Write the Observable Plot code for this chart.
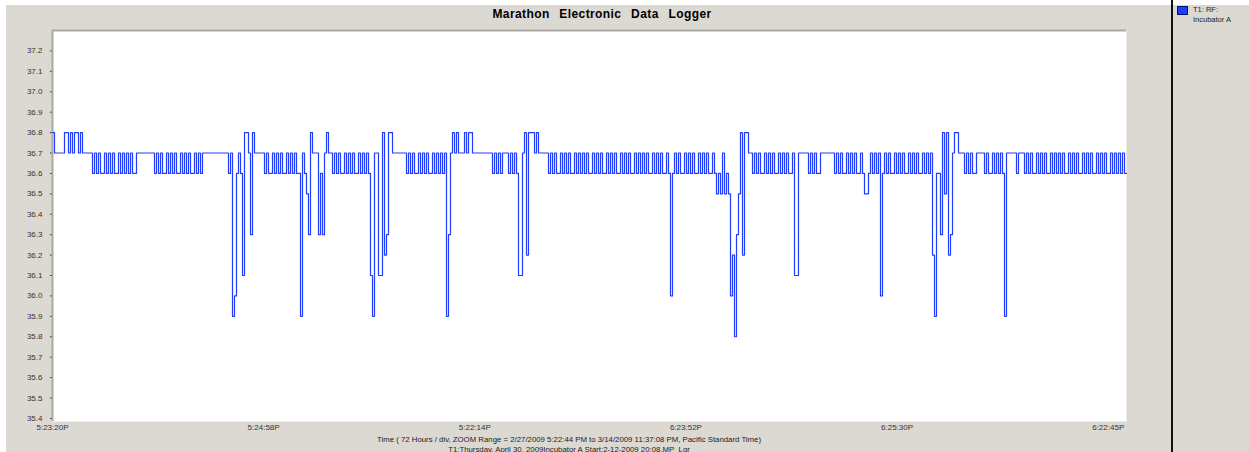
<!DOCTYPE html>
<html>
<head>
<meta charset="utf-8">
<script src="https://cdn.jsdelivr.net/npm/d3@7"></script>
<script src="https://cdn.jsdelivr.net/npm/@observablehq/plot@0.6"></script>
<style>
  html, body { margin: 0; padding: 0; background: #ffffff; }
  #wrap { position: relative; width: 1249px; height: 452px; overflow: hidden; background: #ffffff;
          font-family: "Liberation Sans", Arial, sans-serif; }
  #panel { position: absolute; left: 6px; top: 5px; right: 0; bottom: 0; background: #dcd9d2; }
  #chart { position: absolute; left: 0; top: 0; }
  #title { position: absolute; left: 0; width: 1204px; top: 7px; text-align: center; font-weight: bold;
           font-size: 12px; word-spacing: 6px; letter-spacing: 0.4px; color: #000; }
  #divider { position: absolute; left: 1171px; top: 0; width: 2px; height: 452px; background: #111; }
  #lgbox { position: absolute; left: 1177px; top: 6px; width: 9px; height: 7px; background: #1f3cff; border: 1px solid #00106e; }
  #lgtext { position: absolute; left: 1193px; top: 5px; font-size: 7.5px; line-height: 10px; color: #222; }
  #caption { position: absolute; left: 0; width: 1138px; top: 435px; text-align: center; font-size: 7.8px; line-height: 9.5px; color: #222; }
</style>
</head>
<body>
<div id="wrap">
  <div id="panel"></div>
  <div id="chart"></div>
  <div id="title">Marathon Electronic Data Logger</div>
  <div id="divider"></div>
  <div id="lgbox"></div>
  <div id="lgtext">T1: RF:<br>Incubator A</div>
  <div id="caption">Time ( 72 Hours / div, ZOOM Range = 2/27/2009 5:22:44 PM to 3/14/2009 11:37:08 PM, Pacific Standard Time)<br>T1:Thursday, April 30, 2009Incubator A Start:2-12-2009 20:08.MP&nbsp; Lgr</div>
</div>
<script>
// ---- data ----
// time span of the zoom range in hours (2/27/2009 5:22:44 PM -> 3/14/2009 11:37:08 PM)
const spanHours = 366.24;
// x axis ticks: 72 hours / div, with the logger's tick labels
const tickHours = [0, 72, 144, 216, 288, 360];
const tickLabels = ["5:23:20P", "5:24:58P", "5:22:14P", "6:23:52P", "6:25:30P", "6:22:45P"];
// y axis ticks (°C)
const yTicks = [35.4, 35.5, 35.6, 35.7, 35.8, 35.9, 36.0, 36.1, 36.2, 36.3, 36.4, 36.5, 36.6, 36.7, 36.8, 36.9, 37.0, 37.1, 37.2];
// reading codes -> temperature
const levelCodes = { "8": 36.8, "7": 36.7, "6": 36.6, "5": 36.5, "4": 36.4, "3": 36.3, "2": 36.2, "1": 36.1, "0": 36.0, "9": 35.9, "x": 35.8 };
// successive readings (equally spaced in time)
const readings = [
  "8", "77777", "887878878", "77777",
  "67676676767667676767667", "77777777",
  "676766767676676767667676", "7777777777777",
  "679067", "61887387", "7777",
  "67667676766767676", "697653", "8777", "3637877",
  "6767667676766767676", "197711823887", "777777",
  "67676676767667676767", "93787877787887", "777777777",
  "6767677767676", "11", "782888787", "7777",
  "6767667676", "7667676767", "6676767667", "6767667676", "7667676767", "6676767667", "6",
  "06", "767667676766767676676", "5657565", "02x358288", "77",
  "676766767676676767667", "11", "77777", "6767667", "777777",
  "676766767676676", "556", "76767", "06",
  "767667676766767676676767", "2966385823788", "777", "6767667", "777",
  "6766767676", "9", "777776777",
  "6767667676", "7667676767", "6676767667", "6767667676", "7667676767", "6"
];

// ---- build table ----
const codes = readings.join("");
const n = codes.length;
const series = [];
for (let i = 0; i < n; i++) series.push({ h: i * spanHours / n, v: levelCodes[codes[i]] });
series.push({ h: spanHours, v: levelCodes[codes[n - 1]] });

const chart = Plot.plot({
  width: 1172,
  height: 452,
  marginLeft: 52,
  marginRight: 46,
  marginTop: 30,
  marginBottom: 31,
  style: { background: "transparent", fontFamily: "Liberation Sans, Arial, sans-serif", fontSize: "8px", color: "#333" },
  x: { domain: [0, spanHours], ticks: tickHours, tickFormat: d => tickLabels[tickHours.indexOf(d)], label: null, tickSize: 0, tickPadding: 3 },
  y: { domain: [35.385, 37.3], ticks: yTicks, tickFormat: d => d.toFixed(1), label: null, tickSize: 2, tickPadding: 8 },
  marks: [
    Plot.frame({ fill: "white" }),
    Plot.ruleY([37.3], { stroke: "#aba9a3", strokeWidth: 2 }),
    Plot.ruleX([0], { stroke: "#aba9a3", strokeWidth: 2 }),
    Plot.lineY(series, { x: "h", y: "v", curve: "step-after", stroke: "#1f3cff", strokeWidth: 1.2 })
  ]
});
document.getElementById("chart").appendChild(chart);
</script>
</body>
</html>
